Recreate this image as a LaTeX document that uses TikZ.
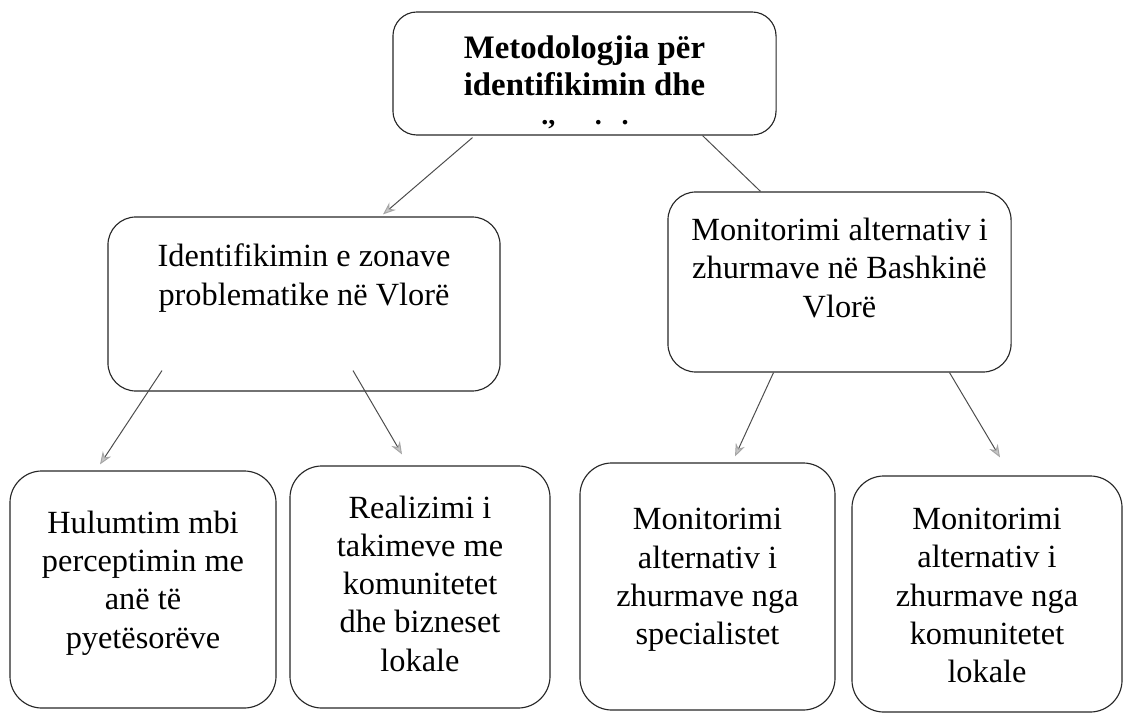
\documentclass[tikz,border=0pt]{standalone}
\usepackage{fontspec}
\setmainfont{Liberation Serif}
\usetikzlibrary{arrows.meta,calc}

\begin{document}
\begin{tikzpicture}[x=0.025cm, y=-0.025cm,
    box/.style={draw=black!85, line width=0.8pt, rounded corners=0.8cm},
    txt/.style={align=center, font=\fontsize{23}{27.2}\selectfont},
    arr/.style={draw=black!70, line width=0.7pt,
      -{Stealth[length=9pt, width=7pt, fill=gray!45, color=gray!70]}}]
      \useasboundingbox (0,0) rectangle (1128,714);

      % top box
      \node[box, rounded corners=0.6cm, minimum width=9.575cm, minimum height=3.075cm] (metod) at (584.5,73.5) {};
      \node[txt, font=\fontsize{23.3}{26.3}\selectfont\bfseries] (metodt) at (584.5,66)
        {Metodologjia për\\identifikimin dhe};
      \node[txt, font=\fontsize{20}{20}\selectfont\bfseries, inner sep=0pt] (metodd) at (585,125)
        {.,\hspace{1.4em}.\hspace{0.7em}.};

      % second level
      \node[box, rounded corners=0.7cm, minimum width=9.8cm, minimum height=4.35cm] (idz) at (304,304) {};
      \node[txt] (idzt) at (304,278) {Identifikimin e zonave\\problematike në Vlorë};

      \node[box, rounded corners=0.7cm, minimum width=8.575cm, minimum height=4.5cm] (mon) at (839.5,282) {};
      \node[txt] (mont) at (839.5,268) {Monitorimi alternativ i\\zhurmave në Bashkinë\\Vlorë};

      % bottom level
      \node[box, minimum width=6.65cm, minimum height=5.925cm] (hul) at (143,589.5) {};
      \node[txt] (hult) at (143,583) {Hulumtim mbi\\perceptimin me\\anë të\\pyetësorëve};

      \node[box, minimum width=6.5cm, minimum height=6.05cm] (real) at (420,587) {};
      \node[txt] (realt) at (420,583.5) {Realizimi i\\takimeve me\\komunitetet\\dhe bizneset\\lokale};

      \node[box, minimum width=6.375cm, minimum height=6.175cm] (spec) at (707.5,586.5) {};
      \node[txt] (spect) at (707.5,580) {Monitorimi\\alternativ i\\zhurmave nga\\specialistet};

      \node[box, minimum width=6.75cm, minimum height=5.9cm] (kom) at (987,594) {};
      \node[txt] (komt) at (987,595.5) {Monitorimi\\alternativ i\\zhurmave nga\\komunitetet\\lokale};

      % connectors
      \draw[arr] ($(metod.south)+(-112,2)$) -- ($(idz.north)+(79,-2)$);
      \draw[draw=black!70, line width=0.7pt] ($(metod.south)+(118,0)$) -- ($(mon.north)+(-79,0)$);

      \draw[arr] ($(idz.south)+(-142,-21)$) -- ($(hul.north)+(-43,-6)$);
      \draw[arr] ($(idz.south)+(49,-21)$) -- ($(real.north)+(-18,-11)$);

      \draw[arr] ($(mon.south)+(-66,0)$) -- ($(spec.north)+(27.5,-6)$);
      \draw[arr] ($(mon.south)+(110,0)$) -- ($(kom.north)+(13,-18)$);
\end{tikzpicture}
\end{document}
